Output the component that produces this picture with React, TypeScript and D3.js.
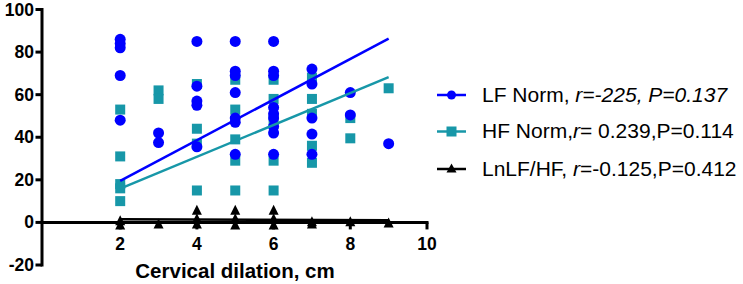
import React from "react";
import * as d3 from "d3";

// ---- data ----
const lfX = [2,2,2,2,2, 3,3, 4,4,4,4,4, 5,5,5,5,5,5,5, 6,6,6,6,6,6,6,6,6, 7,7,7,7,7, 8,8, 9];
const lfY = [86,84,82,69,48, 42,37.5, 85,64,57,55,35.5, 85,71,69,61,49,47,32, 85,71,69,54,51,49,45,42,32, 72,65,49,41.5,32, 61,50.5, 37];

const hfX = [2,2,2,2,2, 3,3, 4,4,4,4, 5,5,5,5,5, 6,6,6,6,6, 7,7,7,7,7, 8,8, 9];
const hfY = [53,31,18,16,10, 62,58, 65,44,37,15, 67,53,39,29,15, 67,58,48,29,15, 68,58,51,36,28, 49,39.5, 63];

const lnX = [2,2, 3, 4,4,4, 5,5,5, 6,6,6, 7,7, 8, 9];
const lnY = [1,-1, -0.5, 6,2,-0.5, 6,2,-1, 6,2,-1, 0.5,-0.5, 0.5, 0];

const lfFitX = [2, 9];
const lfFitY = [19.5, 86.3];
const hfFitX = [2, 9];
const hfFitY = [15.9, 68.2];
const lnFitX = [2, 9];
const lnFitY = [1.5, 1.0];

const xTicks = [2, 4, 6, 8, 10];
const yTicks = [-20, 0, 20, 40, 60, 80, 100];

const BLUE = "#0000ff";
const TEAL = "#1797a8";

export default function App() {
  const x = d3.scaleLinear().domain([0, 10]).range([43.5, 427]);
  const y = d3.scaleLinear().domain([-20, 100]).range([265, 9.5]);
  const line = d3.line<[number, number]>().x((d) => x(d[0])).y((d) => y(d[1]));
  const tri = (w: number, h: number) => `M0,${-h / 2}L${w / 2},${h / 2}L${-w / 2},${h / 2}Z`;
  const font = "'Liberation Sans', Arial, sans-serif";

  const zip = (a: number[], b: number[]) => a.map((v, i) => [v, b[i]] as [number, number]);

  return (
    <svg width={743} height={284} style={{ position: "absolute", left: 0, top: 0, background: "#fff" }} fontFamily={font}>
      {/* HF squares */}
      {zip(hfX, hfY).map((d, i) => (
        <rect key={"h" + i} x={x(d[0]) - 5} y={y(d[1]) - 5} width={10} height={10} fill={TEAL} />
      ))}
      {/* LF circles */}
      {zip(lfX, lfY).map((d, i) => (
        <circle key={"l" + i} cx={x(d[0])} cy={y(d[1])} r={5.5} fill={BLUE} />
      ))}
      {/* axes */}
      <g stroke="#000" strokeWidth={3} fill="none">
        <line x1={x(0) - 1.5} x2={x(0) - 1.5} y1={y(-20) + 1.5} y2={y(100) - 1.5} />
        <line x1={x(0) - 1.5} x2={x(10) + 1.5} y1={y(0)} y2={y(0)} />
        {yTicks.map((t) => (
          <line key={"yt" + t} x1={x(0) - 8} x2={x(0) - 1.5} y1={y(t)} y2={y(t)} />
        ))}
        {xTicks.map((t) => (
          <line key={"xt" + t} x1={x(t)} x2={x(t)} y1={y(0)} y2={y(0) + 7} />
        ))}
      </g>
      {/* LnLF/HF triangles */}
      {zip(lnX, lnY).map((d, i) => (
        <path key={"t" + i} d={tri(10, 10)} transform={`translate(${x(d[0])},${y(d[1])})`} fill="#000" />
      ))}
      {/* regression lines */}
      <path d={line(zip(hfFitX, hfFitY)) as string} stroke={TEAL} strokeWidth={2.5} fill="none" />
      <path d={line(zip(lfFitX, lfFitY)) as string} stroke={BLUE} strokeWidth={2.5} fill="none" />
      <path d={line(zip(lnFitX, lnFitY)) as string} stroke="#000" strokeWidth={2.5} fill="none" />

      {/* tick labels */}
      {yTicks.map((t) => (
        <text key={"yl" + t} x={34} y={y(t) + 6} textAnchor="end" fontSize={17.5} fontWeight="bold">{t}</text>
      ))}
      {xTicks.map((t) => (
        <text key={"xl" + t} x={x(t)} y={249.5} textAnchor="middle" fontSize={17.5} fontWeight="bold">{t}</text>
      ))}
      <text x={235} y={278} textAnchor="middle" fontSize={20.5} fontWeight="bold">Cervical dilation, cm</text>

      {/* legend */}
      <g>
        <line x1={437} x2={466} y1={95} y2={95} stroke={BLUE} strokeWidth={2.5} />
        <circle cx={451.5} cy={95} r={4.5} fill={BLUE} />
        <text x={482} y={101.5} fontSize={21}>
          LF Norm, <tspan fontStyle="italic">r=-225, P=0.137</tspan>
        </text>

        <line x1={437} x2={466} y1={131.5} y2={131.5} stroke={TEAL} strokeWidth={2.5} />
        <rect x={446.5} y={126.5} width={10} height={10} fill={TEAL} />
        <text x={482} y={138} fontSize={21}>
          HF Norm,<tspan fontStyle="italic">r</tspan>= 0.239,P=0.114
        </text>

        <line x1={437} x2={466} y1={169} y2={169} stroke="#000" strokeWidth={2.5} />
        <path d={tri(10, 9)} transform="translate(451.5,168)" fill="#000" />
        <text x={482} y={176} fontSize={21}>
          LnLF/HF, <tspan fontStyle="italic">r</tspan>=-0.125,P=0.412
        </text>
      </g>
    </svg>
  );
}
